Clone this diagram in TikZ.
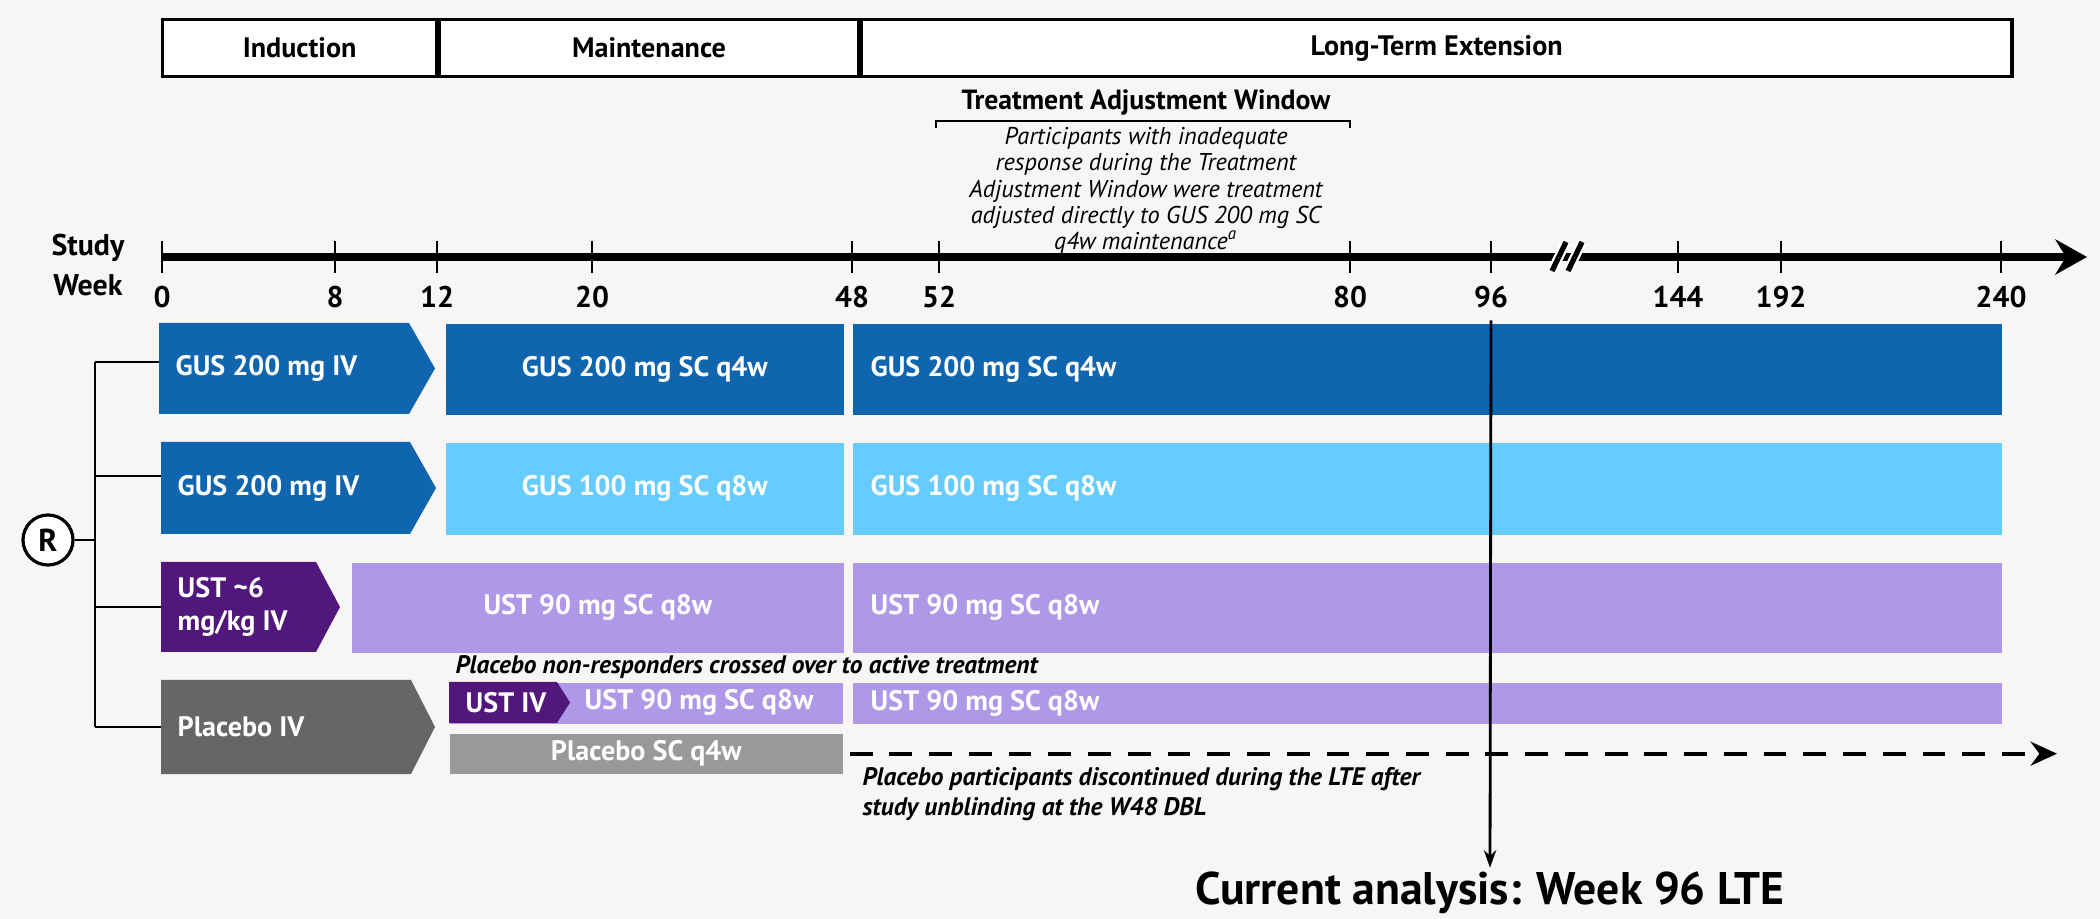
\documentclass[tikz,border=0pt]{standalone}
\usepackage{fontspec}
\setmainfont{PT Sans}
\usetikzlibrary{arrows.meta}
\usetikzlibrary{positioning}

\definecolor{bgc}{HTML}{F7F6F4}
\definecolor{gusdark}{HTML}{1065AF}
\definecolor{guslight}{HTML}{66CCFF}
\definecolor{ustdark}{HTML}{52177D}
\definecolor{ustlight}{HTML}{AF98E8}
\definecolor{pbodark}{HTML}{666666}
\definecolor{pbolight}{HTML}{999999}

\tikzset{
  hdrbox/.style={draw, line width=0.9pt, fill=white, minimum height=0.57cm, inner sep=0pt,
    anchor=north west, font=\bfseries\fontsize{8}{9}\selectfont},
  bar/.style={inner sep=0pt, anchor=north west},
  bartext/.style={text=white, inner sep=0pt, font=\bfseries\fontsize{8}{9.5}\selectfont},
  weeknum/.style={font=\bfseries\fontsize{8.5}{10}\selectfont},
  link/.style={line width=0.8pt},
  note/.style={font=\bfseries\itshape\fontsize{7.2}{8.5}\selectfont, inner sep=0pt}
}

\begin{document}
\begin{tikzpicture}[x=0.01cm, y=-0.01cm]
\fill[bgc] (0,0) rectangle (2100,919);
\useasboundingbox (0,0) rectangle (2100,919);

% study phases
\node[hdrbox, minimum width=2.74cm] (ind) at (161,18) {Induction};
\node[hdrbox, minimum width=4.18cm] (mnt) at (ind.north east) {Maintenance};
\node[hdrbox, minimum width=11.5cm] (lte) at (mnt.north east) {Long-Term Extension};

% treatment adjustment window
\node[font=\bfseries\fontsize{7.9}{9}\selectfont] (taw) at (1146,103) {Treatment Adjustment Window};
\coordinate (tawl) at (936,121);
\coordinate (tawr) at (1350,121);
\draw[line width=0.6pt] ([yshift=-0.07cm]tawl) -- (tawl) -- (tawr) -- ([yshift=-0.07cm]tawr);
\node[font=\itshape\fontsize{6.9}{7.5}\selectfont, align=center, inner sep=0pt] (tawtxt) at (1146,191)
  {Participants with inadequate\\response during the Treatment\\Adjustment Window were treatment\\adjusted directly to GUS 200 mg SC\\q4w maintenance\textsuperscript{a}};

% week axis
\node[font=\bfseries\fontsize{8.5}{11.4}\selectfont, align=center] (sw) at (88,265) {Study\\Week};
\draw[line width=2pt, -{Stealth[length=9pt, width=10pt, inset=3pt]}] (162,257) -- (2087,257);
\foreach \x/\w in {162/0, 335/8, 437/12, 592/20, 852/48, 939/52, 1350/80, 1491/96, 1678/144, 1781/192, 2001/240} {
  \draw[line width=0.7pt] (\x,241) -- (\x,273);
  \node[weeknum] (w\w) at (\x,297) {\w};
}
\draw[white, line width=2.8pt] (1552,271) -- (1566,242) (1568,271) -- (1582,242);
\draw[line width=1.5pt] (1552,271) -- (1566,242) (1568,271) -- (1582,242);

% randomisation
\node[draw, circle, line width=0.9pt, fill=white, minimum size=0.5cm, inner sep=0pt,
  font=\bfseries\fontsize{9}{10}\selectfont] (R) at (48,540) {R};
\coordinate (sp) at (95,540);
\coordinate (a1) at (159,362);
\coordinate (a2) at (161,476);
\coordinate (a3) at (161,607);
\coordinate (a4) at (161,727);
\draw[link] (R) -- (sp);
\draw[link] (a1 -| sp) -- (a4 -| sp);
\foreach \r in {1,...,4}
  \draw[link] (a\r -| sp) -- (a\r);

% induction
\fill[gusdark] (159,323) -- (409,323) -- (435,368.5) -- (409,414) -- (159,414) -- cycle;
\fill[gusdark] (161,442) -- (410,442) -- (436,488) -- (410,534) -- (161,534) -- cycle;
\fill[ustdark] (161,562) -- (316,562) -- (340,607) -- (316,652) -- (161,652) -- cycle;
\fill[pbodark] (161,680) -- (411,680) -- (435,727) -- (411,774) -- (161,774) -- cycle;
\node[bartext, anchor=west] at (175,368) {GUS 200 mg IV};
\node[bartext, anchor=west] at (177,488) {GUS 200 mg IV};
\node[bartext, anchor=west, align=left] at (177,607) {UST \textasciitilde6\\mg/kg IV};
\node[bartext, anchor=west] at (177,727) {Placebo IV};

% maintenance
\node[bar, fill=gusdark, minimum width=3.98cm, minimum height=0.91cm] (m1) at (445,323) {};
\node[bar, fill=guslight, minimum width=3.98cm, minimum height=0.92cm] (m2) at (445,442) {};
\node[bar, fill=ustlight, minimum width=4.92cm, minimum height=0.90cm] (m3) at (351,562) {};
\node[bar, fill=ustlight, minimum width=3.93cm, minimum height=0.41cm] (m4) at (449,682) {};
\node[bar, fill=pbolight, minimum width=3.93cm, minimum height=0.40cm] (plsc) at (449,733) {};
\fill[ustdark] (449,682) -- (557,682) -- (570,702.5) -- (557,723) -- (449,723) -- cycle;
\node[bartext] at (m1) {GUS 200 mg SC q4w};
\node[bartext] at (m2) {GUS 100 mg SC q8w};
\node[bartext] at (m3) {UST 90 mg SC q8w};
\node[bartext] at (506,702.5) {UST IV};
\node[bartext] at (699,702.5) {UST 90 mg SC q8w};
\node[bartext] at (plsc) {Placebo SC q4w};
\node[note, anchor=west] (xover) at (455,667) {Placebo non-responders crossed over to active treatment};

% long-term extension
\node[bar, fill=gusdark, minimum width=11.49cm, minimum height=0.91cm] (l1) at (852,323) {};
\node[bar, fill=guslight, minimum width=11.49cm, minimum height=0.92cm] (l2) at (852,442) {};
\node[bar, fill=ustlight, minimum width=11.49cm, minimum height=0.90cm] (l3) at (852,562) {};
\node[bar, fill=ustlight, minimum width=11.49cm, minimum height=0.41cm] (l4) at (852,682) {};
\foreach \r/\t in {1/GUS 200 mg SC q4w, 2/GUS 100 mg SC q8w, 3/UST 90 mg SC q8w, 4/UST 90 mg SC q8w}
  \node[bartext, right=0.18cm of l\r.west] {\t};

% placebo discontinued
\coordinate (dend) at (2057,751);
\draw[line width=1.2pt, dash pattern=on 6.5pt off 4.8pt, shorten <=0.06cm,
  -{Stealth[length=7.5pt, width=6.8pt, inset=2.5pt]}] (plsc.east) -- (plsc.east -| dend);
\node[note, align=left, anchor=north west] (disc) at (862,767)
  {Placebo participants discontinued during the LTE after\\study unblinding at the W48 DBL};

% current analysis
\node[font=\bfseries\fontsize{13}{15}\selectfont, inner sep=1pt] (cur) at (1490,893) {Current analysis: Week 96 LTE};
\draw[line width=0.8pt, -{Stealth[length=5pt, width=3.5pt]}] (w96.south) -- (cur.north);
\end{tikzpicture}
\end{document}
